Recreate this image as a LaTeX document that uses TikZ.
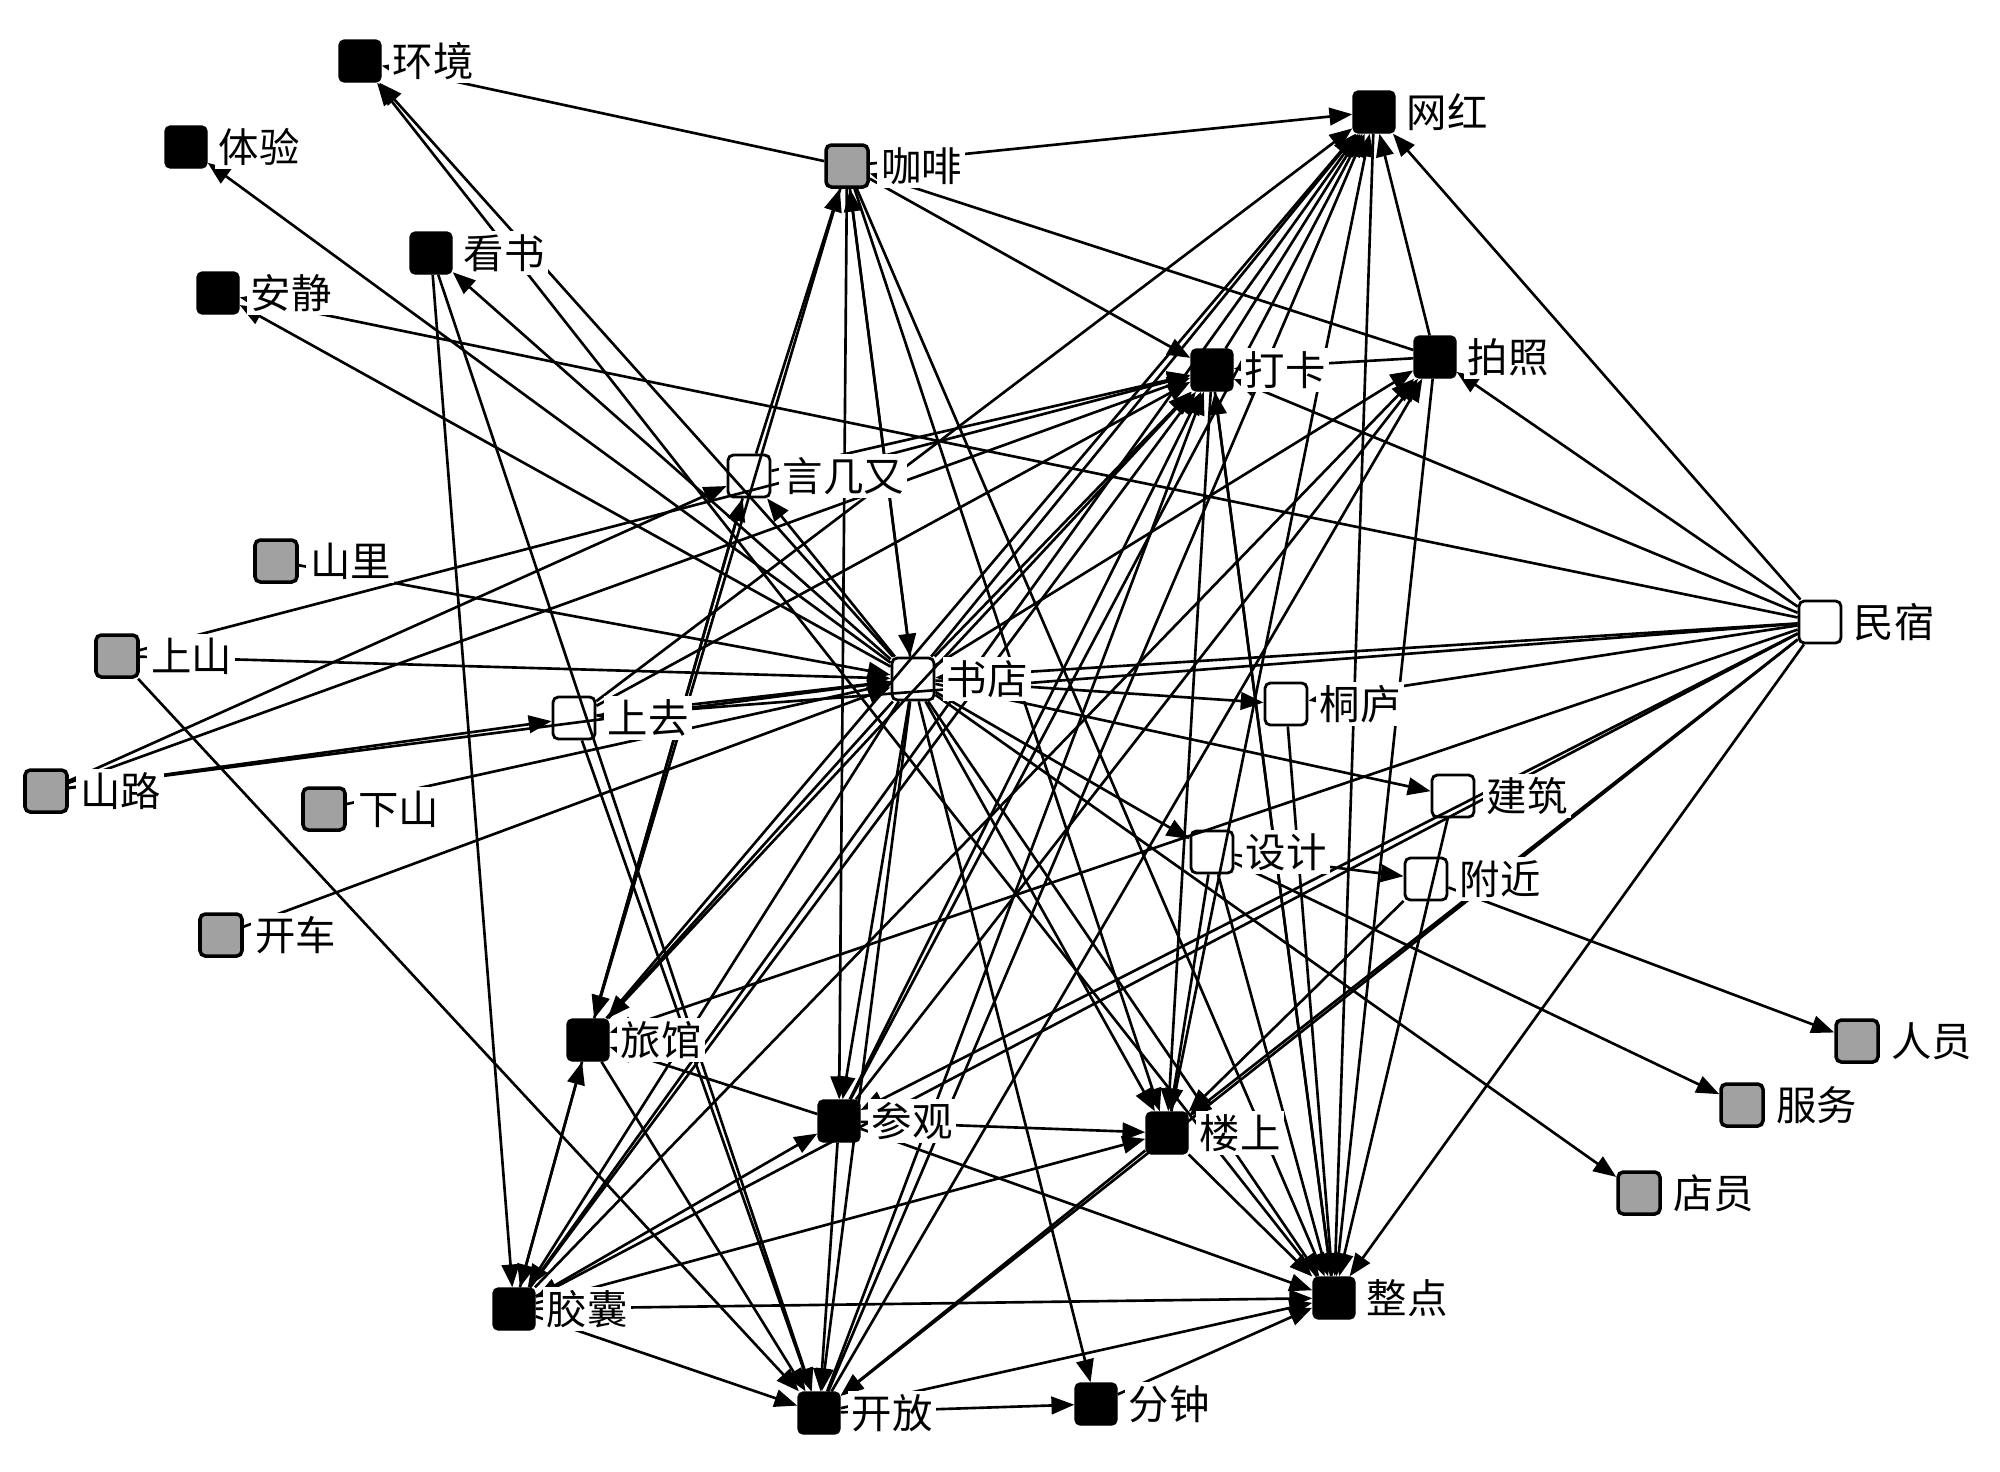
\documentclass[tikz,border=0pt]{standalone}
\usepackage{fontspec}
\newfontfamily\cjk{Noto Sans CJK SC}
\usetikzlibrary{positioning,arrows.meta}

\begin{document}
\begin{tikzpicture}[
	box/.style={rectangle, rounded corners=1.5pt, draw=black, minimum size=0.42cm, inner sep=0pt},
	bk/.style={box, fill=black},
	gy/.style={box, fill=black!37, line width=1pt},
	wt/.style={box, fill=white, line width=0.8pt},
	e/.style={line width=0.75pt, -{Triangle[length=6.5pt,width=5pt]}},
	lbl/.style={fill=white, inner sep=1pt, font=\cjk\fontsize{11.5}{13}\selectfont}
	]
	\path[use as bounding box, fill=white] (0,0) rectangle (20,-14.71);
	% squares
	\node[bk] (hj) at (3.60,-0.61) {};
	\node[bk] (ty) at (1.86,-1.47) {};
	\node[bk] (ks) at (4.31,-2.53) {};
	\node[bk] (aj) at (2.18,-2.93) {};
	\node[gy] (kf) at (8.47,-1.66) {};
	\node[bk] (wh) at (13.74,-1.12) {};
	\node[bk] (dk) at (12.12,-3.70) {};
	\node[bk] (pz) at (14.35,-3.57) {};
	\node[wt] (yj) at (7.49,-4.76) {};
	\node[gy] (sl) at (2.76,-5.61) {};
	\node[gy] (ss) at (1.17,-6.56) {};
	\node[wt] (sd) at (9.13,-6.79) {};
	\node[wt] (tl) at (12.86,-7.04) {};
	\node[wt] (ms) at (18.20,-6.22) {};
	\node[wt] (sq) at (5.74,-7.18) {};
	\node[gy] (slu) at (0.46,-7.91) {};
	\node[gy] (xs) at (3.24,-8.09) {};
	\node[wt] (jz) at (14.53,-7.96) {};
	\node[wt] (sj) at (12.12,-8.52) {};
	\node[wt] (fj) at (14.26,-8.79) {};
	\node[gy] (kc) at (2.21,-9.35) {};
	\node[bk] (lg) at (5.88,-10.40) {};
	\node[gy] (ry) at (18.57,-10.41) {};
	\node[bk] (cg) at (8.39,-11.21) {};
	\node[bk] (ls) at (11.67,-11.33) {};
	\node[gy] (fw) at (17.42,-11.05) {};
	\node[gy] (dy) at (16.39,-11.93) {};
	\node[bk] (jn) at (5.14,-13.09) {};
	\node[bk] (zd) at (13.34,-12.98) {};
	\node[bk] (kfa) at (8.19,-14.13) {};
	\node[bk] (fz) at (10.96,-14.04) {};
	% 书店
	\draw[e] (sd)--(hj); \draw[e] (sd)--(ty); \draw[e] (sd)--(aj); \draw[e] (sd)--(ks);
	\draw[e] (sd)--(kf); \draw[e] (sd)--(wh); \draw[e] (sd)--(dk); \draw[e] (sd)--(pz);
	\draw[e] (sd)--(yj); \draw[e] (sd)--(tl); \draw[e] (sd)--(jz); \draw[e] (sd)--(sj);
	\draw[e] (sd)--(dy); \draw[e] (sd)--(lg); \draw[e] (sd)--(cg); \draw[e] (sd)--(ls);
	\draw[e] (sd)--(zd); \draw[e] (sd)--(kfa); \draw[e] (sd)--(fz); \draw[e] (sd)--(jn);
	\draw[e] (sl)--(sd); \draw[e] (ss)--(sd); \draw[e] (slu)--(sd); \draw[e] (xs)--(sd);
	\draw[e] (kc)--(sd); \draw[e] (sq)--(sd); \draw[e] (ms)--(sd); \draw[e] (kf)--(sd);
	% 咖啡
	\draw[e] (kf)--(hj); \draw[e] (kf)--(wh); \draw[e] (kf)--(dk); \draw[e] (kf)--(lg);
	\draw[e] (kf)--(cg); \draw[e] (kf)--(ls); \draw[e] (kf)--(zd); \draw[e] (pz)--(kf);
	\draw[e] (yj)--(kf);
	% 网红
	\draw[e] (dk)--(wh); \draw[e] (lg)--(wh); \draw[e] (jn)--(wh); \draw[e] (cg)--(wh);
	\draw[e] (kfa)--(wh); \draw[e] (ls)--(wh); \draw[e] (pz)--(wh); \draw[e] (ms)--(wh);
	\draw[e] (sq)--(wh); \draw[e] (wh)--(zd);
	% 打卡
	\draw[e] (ss)--(dk); \draw[e] (slu)--(dk); \draw[e] (yj)--(dk); \draw[e] (sq)--(dk);
	\draw[e] (ms)--(dk); \draw[e] (pz)--(dk); \draw[e] (cg)--(dk); \draw[e] (kfa)--(dk);
	\draw[e] (jn)--(dk); \draw[e] (lg)--(dk); \draw[e] (zd)--(dk);
	\draw[e] (dk)--(ls); \draw[e] (dk)--(zd);
	% 拍照
	\draw[e] (ms)--(pz); \draw[e] (cg)--(pz); \draw[e] (jn)--(pz); \draw[e] (kfa)--(pz);
	\draw[e] (pz)--(zd);
	% 左上
	\draw[e] (zd)--(hj); \draw[e] (ms)--(aj); \draw[e] (ks)--(jn); \draw[e] (ks)--(kfa);
	% 言几又, 上去
	\draw[e] (yj)--(lg); \draw[e] (lg)--(yj); \draw[e] (slu)--(yj); \draw[e] (slu)--(sq);
	\draw[e] (sq)--(kfa);
	% 民宿
	\draw[e] (ms)--(sq); \draw[e] (ms)--(lg); \draw[e] (ms)--(jn); \draw[e] (ms)--(cg);
	\draw[e] (ms)--(zd); \draw[e] (ms)--(kfa); \draw[e] (ms)--(ls); \draw[e] (ms)--(tl);
	% 下部
	\draw[e] (jn)--(lg); \draw[e] (lg)--(jn); \draw[e] (cg)--(lg); \draw[e] (jn)--(kfa);
	\draw[e] (jn)--(zd); \draw[e] (jn)--(ls); \draw[e] (jn)--(cg); \draw[e] (lg)--(kfa);
	\draw[e] (cg)--(ls); \draw[e] (cg)--(zd); \draw[e] (cg)--(kfa); \draw[e] (ls)--(zd);
	\draw[e] (ls)--(kfa); \draw[e] (kfa)--(fz); \draw[e] (fz)--(zd); \draw[e] (kfa)--(zd);
	\draw[e] (ss)--(kfa);
	% 右部
	\draw[e] (sj)--(fj); \draw[e] (fj)--(ry); \draw[e] (sj)--(fw); \draw[e] (fj)--(ls);
	\draw[e] (sj)--(zd); \draw[e] (sj)--(ls); \draw[e] (jz)--(zd); \draw[e] (tl)--(zd);
	% labels
	\node[lbl, right=2pt of hj] (hj-t) {环境};
	\node[lbl, right=2pt of ty] (ty-t) {体验};
	\node[lbl, right=2pt of ks] (ks-t) {看书};
	\node[lbl, right=2pt of aj] (aj-t) {安静};
	\node[lbl, right=2pt of kf] (kf-t) {咖啡};
	\node[lbl, right=2pt of wh] (wh-t) {网红};
	\node[lbl, right=2pt of dk] (dk-t) {打卡};
	\node[lbl, right=2pt of pz] (pz-t) {拍照};
	\node[lbl, right=2pt of yj] (yj-t) {言几又};
	\node[lbl, right=2pt of sl] (sl-t) {山里};
	\node[lbl, right=2pt of ss] (ss-t) {上山};
	\node[lbl, right=2pt of sd] (sd-t) {书店};
	\node[lbl, right=2pt of tl] (tl-t) {桐庐};
	\node[lbl, right=2pt of ms] (ms-t) {民宿};
	\node[lbl, right=2pt of sq] (sq-t) {上去};
	\node[lbl, right=2pt of slu] (slu-t) {山路};
	\node[lbl, right=2pt of xs] (xs-t) {下山};
	\node[lbl, right=2pt of jz] (jz-t) {建筑};
	\node[lbl, right=2pt of sj] (sj-t) {设计};
	\node[lbl, right=2pt of fj] (fj-t) {附近};
	\node[lbl, right=2pt of kc] (kc-t) {开车};
	\node[lbl, right=2pt of lg] (lg-t) {旅馆};
	\node[lbl, right=2pt of ry] (ry-t) {人员};
	\node[lbl, right=2pt of cg] (cg-t) {参观};
	\node[lbl, right=2pt of ls] (ls-t) {楼上};
	\node[lbl, right=2pt of fw] (fw-t) {服务};
	\node[lbl, right=2pt of dy] (dy-t) {店员};
	\node[lbl, right=2pt of jn] (jn-t) {胶囊};
	\node[lbl, right=2pt of zd] (zd-t) {整点};
	\node[lbl, right=2pt of kfa] (kfa-t) {开放};
	\node[lbl, right=2pt of fz] (fz-t) {分钟};
\end{tikzpicture}
\end{document}
